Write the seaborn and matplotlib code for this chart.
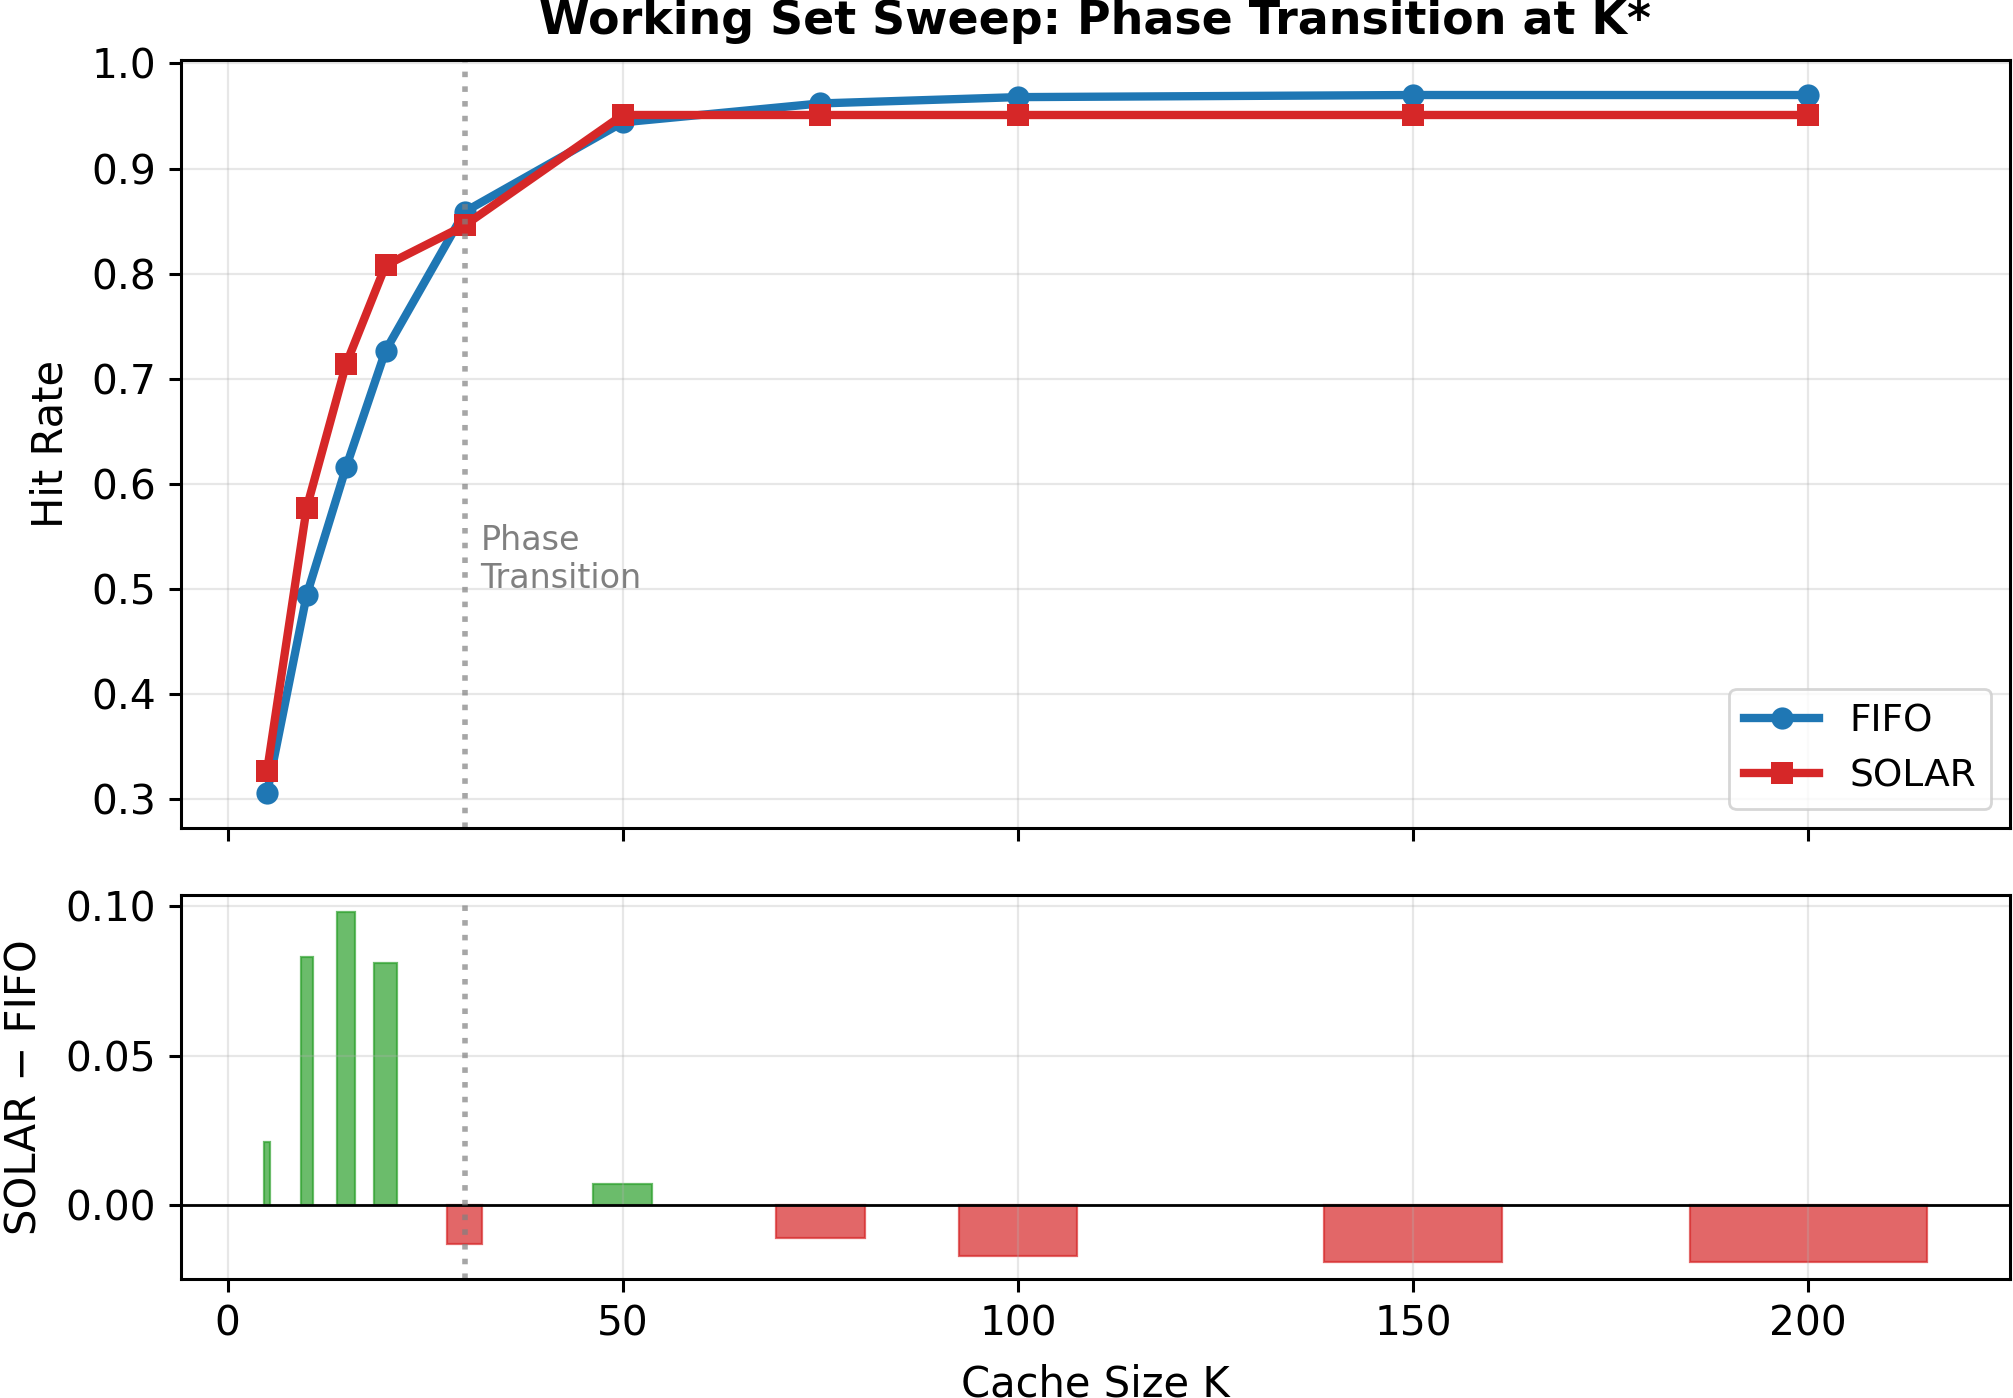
import matplotlib
matplotlib.use("Agg")
import matplotlib.pyplot as plt
import numpy as np
import pandas as pd
import seaborn as sns

# cache sizes swept
cache_k = [5, 10, 15, 20, 30, 50, 75, 100, 150, 200]
# hit rates
fifo_hit = [0.306, 0.494, 0.616, 0.727, 0.859, 0.944, 0.962, 0.968, 0.970, 0.970]
solar_hit = [0.327, 0.577, 0.714, 0.808, 0.846, 0.951, 0.951, 0.951, 0.951, 0.951]
k_star = 30

df = pd.DataFrame({"K": cache_k * 2,
                   "hit": fifo_hit + solar_hit,
                   "policy": ["FIFO"] * len(cache_k) + ["SOLAR"] * len(cache_k)})
diff = np.array(solar_hit) - np.array(fifo_hit)

plt.rcParams['font.family'] = ['DejaVu Sans']
plt.rcParams['font.size'] = 15
plt.rcParams['axes.linewidth'] = 1.1
for a in ("xtick", "ytick"):
    plt.rcParams[a + '.major.size'] = 4.5
    plt.rcParams[a + '.major.pad'] = 4.5
    plt.rcParams[a + '.major.width'] = 1.1

fig = plt.figure(figsize=(2013 / 200, 1398 / 200), dpi=200)
ax1 = fig.add_axes([0.0899, 0.4077, 0.9086, 0.5493])
ax2 = fig.add_axes([0.0899, 0.0851, 0.9086, 0.2747], sharex=ax1)

# top panel: hit rate curves
sns.lineplot(data=df, x="K", y="hit", hue="policy", style="policy",
             palette={"FIFO": "#1f77b4", "SOLAR": "#d62728"},
             markers={"FIFO": "o", "SOLAR": "s"}, dashes=False,
             linewidth=3, markersize=8, markeredgewidth=0, ax=ax1)
ax1.axvline(k_star, color="gray", linestyle=":", linewidth=2, alpha=0.7)
ax1.text(k_star + 2, 0.494, "Phase\nTransition", color="gray", fontsize=12,
         va="bottom", ha="left")
ax1.set_ylabel("Hit Rate", fontsize=15, labelpad=7)
ax1.set_xlabel("")
ax1.set_title("Working Set Sweep: Phase Transition at K*", fontsize=16.5,
              fontweight="bold", pad=9.5)
ax1.grid(True, alpha=0.3)
ax1.tick_params(labelbottom=False, labelsize=14.7)
ax1.legend(loc="lower right", fontsize=13.5, handlelength=2)

# bottom panel: difference bars, width grows with K
bar_colors = ["#2ca02c" if d >= 0 else "#d62728" for d in diff]
ax2.bar(cache_k, diff, width=[0.15 * k for k in cache_k], color=bar_colors,
        alpha=0.7, edgecolor=bar_colors, linewidth=0.8)
ax2.axhline(0, color="black", linewidth=1)
ax2.axvline(k_star, color="gray", linestyle=":", linewidth=2, alpha=0.7)
ax2.set_ylabel("SOLAR \u2212 FIFO", fontsize=15, labelpad=7)
ax2.set_xlabel("Cache Size K", fontsize=15, labelpad=7)
ax2.grid(True, alpha=0.3)
ax2.tick_params(labelsize=14.7)
ax2.set_xticks([0, 50, 100, 150, 200])

fig.savefig("out.png", dpi=200)
